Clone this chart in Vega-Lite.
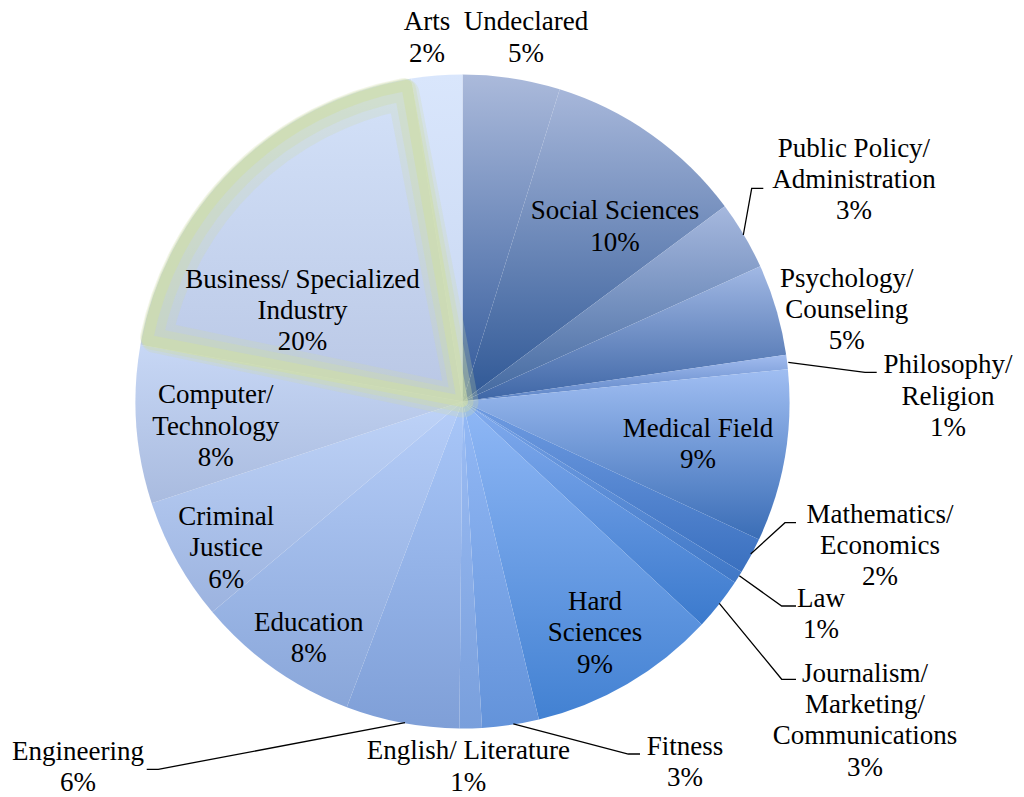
{
  "$schema": "https://vega.github.io/schema/vega-lite/v6.json",
  "width": 1024,
  "height": 797,
  "padding": 0,
  "autosize": {"type": "none"},
  "background": "white",
  "config": {"view": {"stroke": null}},
  "datasets": {
    "slices": [
      {"major": "Undeclared", "value": 4.8, "rank": 1},
      {"major": "Social Sciences", "value": 10.0, "rank": 2},
      {"major": "Public Policy/ Administration", "value": 3.4, "rank": 3},
      {"major": "Psychology/ Counseling", "value": 4.5, "rank": 4},
      {"major": "Philosophy/ Religion", "value": 0.7, "rank": 5},
      {"major": "Medical Field", "value": 8.5, "rank": 6},
      {"major": "Mathematics/ Economics", "value": 1.8, "rank": 7},
      {"major": "Law", "value": 0.6, "rank": 8},
      {"major": "Journalism/ Marketing/ Communications", "value": 2.6, "rank": 9},
      {"major": "Hard Sciences", "value": 9.3, "rank": 10},
      {"major": "Fitness", "value": 2.8, "rank": 11},
      {"major": "English/ Literature", "value": 1.1, "rank": 12},
      {"major": "Engineering", "value": 5.6, "rank": 13},
      {"major": "Education", "value": 8.1, "rank": 14},
      {"major": "Criminal Justice", "value": 6.1, "rank": 15},
      {"major": "Computer/ Technology", "value": 7.8, "rank": 16},
      {"major": "Business/ Specialized Industry", "value": 19.7, "rank": 17},
      {"major": "Arts", "value": 2.5, "rank": 18}
    ],
    "labels": [
      {"major": "Arts", "label": "Arts\n2%", "lx": -0.1086, "ly": 1.1346},
      {"major": "Undeclared", "label": "Undeclared\n5%", "lx": 0.1942, "ly": 1.1346},
      {"major": "Social Sciences", "label": "Social Sciences\n10%", "lx": 0.4664, "ly": 0.5572},
      {"major": "Public Policy/ Administration", "label": "Public Policy/\nAdministration\n3%", "lx": 1.1972, "ly": 0.7486},
      {"major": "Psychology/ Counseling", "label": "Psychology/\nCounseling\n5%", "lx": 1.1749, "ly": 0.3511},
      {"major": "Philosophy/ Religion", "label": "Philosophy/\nReligion\n1%", "lx": 1.4847, "ly": 0.0862},
      {"major": "Medical Field", "label": "Medical Field\n9%", "lx": 0.7202, "ly": -0.1076},
      {"major": "Mathematics/ Economics", "label": "Mathematics/\nEconomics\n2%", "lx": 1.2768, "ly": -0.3706},
      {"major": "Law", "label": "Law\n1%", "lx": 1.0963, "ly": -0.6275},
      {"major": "Journalism/ Marketing/ Communications", "label": "Journalism/\nMarketing/\nCommunications\n3%", "lx": 1.2309, "ly": -0.8569},
      {"major": "Hard Sciences", "label": "Hard\nSciences\n9%", "lx": 0.4052, "ly": -0.6376},
      {"major": "Fitness", "label": "Fitness\n3%", "lx": 0.6804, "ly": -1.0810},
      {"major": "English/ Literature", "label": "English/ Literature\n1%", "lx": 0.0177, "ly": -1.0942},
      {"major": "Engineering", "label": "Engineering\n6%", "lx": -1.1758, "ly": -1.0963},
      {"major": "Education", "label": "Education\n8%", "lx": -0.4700, "ly": -0.7009},
      {"major": "Criminal Justice", "label": "Criminal\nJustice\n6%", "lx": -0.7226, "ly": -0.3777},
      {"major": "Computer/ Technology", "label": "Computer/\nTechnology\n8%", "lx": -0.7544, "ly": -0.0055},
      {"major": "Business/ Specialized Industry", "label": "Business/ Specialized\nIndustry\n20%", "lx": -0.4893, "ly": 0.3480}
    ],
    "leaders": [
      {"major": "Public Policy/ Administration", "k": 1, "lx": 0.8587, "ly": 0.5092},
      {"major": "Public Policy/ Administration", "k": 2, "lx": 0.8844, "ly": 0.6520},
      {"major": "Public Policy/ Administration", "k": 3, "lx": 0.9199, "ly": 0.6520},
      {"major": "Philosophy/ Religion", "k": 1, "lx": 0.9963, "ly": 0.1199},
      {"major": "Philosophy/ Religion", "k": 2, "lx": 1.2309, "ly": 0.0893},
      {"major": "Philosophy/ Religion", "k": 3, "lx": 1.2667, "ly": 0.0893},
      {"major": "Mathematics/ Economics", "k": 1, "lx": 0.8813, "ly": -0.4664},
      {"major": "Mathematics/ Economics", "k": 2, "lx": 0.9862, "ly": -0.3706},
      {"major": "Mathematics/ Economics", "k": 3, "lx": 1.0199, "ly": -0.3706},
      {"major": "Law", "k": 1, "lx": 0.8465, "ly": -0.5327},
      {"major": "Law", "k": 2, "lx": 0.9761, "ly": -0.6254},
      {"major": "Law", "k": 3, "lx": 1.0199, "ly": -0.6254},
      {"major": "Journalism/ Marketing/ Communications", "k": 1, "lx": 0.7853, "ly": -0.6171},
      {"major": "Journalism/ Marketing/ Communications", "k": 2, "lx": 0.9761, "ly": -0.8495},
      {"major": "Journalism/ Marketing/ Communications", "k": 3, "lx": 1.0199, "ly": -0.8495},
      {"major": "Fitness", "k": 1, "lx": 0.1554, "ly": -0.9862},
      {"major": "Fitness", "k": 2, "lx": 0.5070, "ly": -1.0780},
      {"major": "Fitness", "k": 3, "lx": 0.5428, "ly": -1.0780},
      {"major": "Engineering", "k": 1, "lx": -0.1758, "ly": -0.9823},
      {"major": "Engineering", "k": 2, "lx": -0.9303, "ly": -1.1248},
      {"major": "Engineering", "k": 3, "lx": -0.9657, "ly": -1.1248}
    ]
  },
  "layer": [
    {
      "data": {"name": "slices"},
      "mark": {"type": "arc", "outerRadius": 327},
      "encoding": {
        "x": {"datum": 0, "type": "quantitative", "scale": {"domain": [-1.41437, 1.71713], "nice": false, "zero": false}, "axis": null},
        "y": {"datum": 0, "type": "quantitative", "scale": {"domain": [-1.20948, 1.22783], "nice": false, "zero": false}, "axis": null},
        "theta": {"field": "value", "type": "quantitative", "stack": true},
        "order": {"field": "rank", "type": "quantitative", "sort": "ascending"},
        "fill": {
          "condition": [
            {"test": "datum.major === 'Undeclared'", "value": {"gradient": "linear", "x1": 0, "y1": 0, "x2": 0, "y2": 1, "stops": [{"offset": 0, "color": "#abbadb"}, {"offset": 1, "color": "#31599a"}]}},
            {"test": "datum.major === 'Social Sciences'", "value": {"gradient": "linear", "x1": 0, "y1": 0, "x2": 0, "y2": 1, "stops": [{"offset": 0, "color": "#a7b7da"}, {"offset": 1, "color": "#2e5795"}]}},
            {"test": "datum.major === 'Public Policy/ Administration'", "value": {"gradient": "linear", "x1": 0, "y1": 0, "x2": 0, "y2": 1, "stops": [{"offset": 0, "color": "#a6b8de"}, {"offset": 1, "color": "#42689f"}]}},
            {"test": "datum.major === 'Psychology/ Counseling'", "value": {"gradient": "linear", "x1": 0, "y1": 0, "x2": 0, "y2": 1, "stops": [{"offset": 0, "color": "#a1b8e4"}, {"offset": 1, "color": "#3e66a6"}]}},
            {"test": "datum.major === 'Philosophy/ Religion'", "value": {"gradient": "linear", "x1": 0, "y1": 0, "x2": 0, "y2": 1, "stops": [{"offset": 0, "color": "#a2bcef"}, {"offset": 1, "color": "#5a82c4"}]}},
            {"test": "datum.major === 'Medical Field'", "value": {"gradient": "linear", "x1": 0, "y1": 0, "x2": 0, "y2": 1, "stops": [{"offset": 0, "color": "#a0bef2"}, {"offset": 1, "color": "#3a6db6"}]}},
            {"test": "datum.major === 'Mathematics/ Economics'", "value": {"gradient": "linear", "x1": 0, "y1": 0, "x2": 0, "y2": 1, "stops": [{"offset": 0, "color": "#709ce2"}, {"offset": 1, "color": "#3a70bf"}]}},
            {"test": "datum.major === 'Law'", "value": {"gradient": "linear", "x1": 0, "y1": 0, "x2": 0, "y2": 1, "stops": [{"offset": 0, "color": "#78a3e7"}, {"offset": 1, "color": "#3f77c6"}]}},
            {"test": "datum.major === 'Journalism/ Marketing/ Communications'", "value": {"gradient": "linear", "x1": 0, "y1": 0, "x2": 0, "y2": 1, "stops": [{"offset": 0, "color": "#82abee"}, {"offset": 1, "color": "#3b7acd"}]}},
            {"test": "datum.major === 'Hard Sciences'", "value": {"gradient": "linear", "x1": 0, "y1": 0, "x2": 0, "y2": 1, "stops": [{"offset": 0, "color": "#90b8f6"}, {"offset": 1, "color": "#4281d2"}]}},
            {"test": "datum.major === 'Fitness'", "value": {"gradient": "linear", "x1": 0, "y1": 0, "x2": 0, "y2": 1, "stops": [{"offset": 0, "color": "#95baf6"}, {"offset": 1, "color": "#6393da"}]}},
            {"test": "datum.major === 'English/ Literature'", "value": {"gradient": "linear", "x1": 0, "y1": 0, "x2": 0, "y2": 1, "stops": [{"offset": 0, "color": "#9dbef5"}, {"offset": 1, "color": "#799fdc"}]}},
            {"test": "datum.major === 'Engineering'", "value": {"gradient": "linear", "x1": 0, "y1": 0, "x2": 0, "y2": 1, "stops": [{"offset": 0, "color": "#a9c7f9"}, {"offset": 1, "color": "#7f9fd7"}]}},
            {"test": "datum.major === 'Education'", "value": {"gradient": "linear", "x1": 0, "y1": 0, "x2": 0, "y2": 1, "stops": [{"offset": 0, "color": "#b6cef9"}, {"offset": 1, "color": "#89a6d9"}]}},
            {"test": "datum.major === 'Criminal Justice'", "value": {"gradient": "linear", "x1": 0, "y1": 0, "x2": 0, "y2": 1, "stops": [{"offset": 0, "color": "#bed3f8"}, {"offset": 1, "color": "#9cb3df"}]}},
            {"test": "datum.major === 'Computer/ Technology'", "value": {"gradient": "linear", "x1": 0, "y1": 0, "x2": 0, "y2": 1, "stops": [{"offset": 0, "color": "#c7d7f5"}, {"offset": 1, "color": "#a9bbdf"}]}},
            {"test": "datum.major === 'Business/ Specialized Industry'", "value": {"gradient": "linear", "x1": 0, "y1": 0, "x2": 0, "y2": 1, "stops": [{"offset": 0, "color": "#d4e2f9"}, {"offset": 1, "color": "#b9c7e5"}]}}
          ],
          "value": {"gradient": "linear", "x1": 0, "y1": 0, "x2": 0, "y2": 1, "stops": [{"offset": 0, "color": "#d9e6fc"}, {"offset": 1, "color": "#c7d6f1"}]}
        }
      }
    },
    {
      "data": {"name": "slices"},
      "mark": {"type": "arc", "outerRadius": 313, "padAngle": 0.065, "fill": "white", "fillOpacity": 0, "stroke": "#cedda8", "strokeWidth": 32, "strokeJoin": "round"},
      "encoding": {
        "x": {"datum": 0, "type": "quantitative"},
        "y": {"datum": 0, "type": "quantitative"},
        "theta": {"field": "value", "type": "quantitative", "stack": true},
        "order": {"field": "rank", "type": "quantitative", "sort": "ascending"},
        "strokeOpacity": {"condition": {"test": "datum.major === 'Business/ Specialized Industry'", "value": 0.25}, "value": 0}
      }
    },
    {
      "data": {"name": "slices"},
      "mark": {"type": "arc", "outerRadius": 317, "padAngle": 0.05, "fill": "white", "fillOpacity": 0, "stroke": "#cedda8", "strokeWidth": 22, "strokeJoin": "round"},
      "encoding": {
        "x": {"datum": 0, "type": "quantitative"},
        "y": {"datum": 0, "type": "quantitative"},
        "theta": {"field": "value", "type": "quantitative", "stack": true},
        "order": {"field": "rank", "type": "quantitative", "sort": "ascending"},
        "strokeOpacity": {"condition": {"test": "datum.major === 'Business/ Specialized Industry'", "value": 0.35}, "value": 0}
      }
    },
    {
      "data": {"name": "slices"},
      "mark": {"type": "arc", "outerRadius": 321, "padAngle": 0.035, "fill": "white", "fillOpacity": 0, "stroke": "#cedda8", "strokeWidth": 11, "strokeJoin": "round"},
      "encoding": {
        "x": {"datum": 0, "type": "quantitative"},
        "y": {"datum": 0, "type": "quantitative"},
        "theta": {"field": "value", "type": "quantitative", "stack": true},
        "order": {"field": "rank", "type": "quantitative", "sort": "ascending"},
        "strokeOpacity": {"condition": {"test": "datum.major === 'Business/ Specialized Industry'", "value": 0.6}, "value": 0}
      }
    },
    {
      "data": {"name": "leaders"},
      "mark": {"type": "line", "color": "black", "strokeWidth": 1.3},
      "encoding": {
        "x": {"field": "lx", "type": "quantitative"},
        "y": {"field": "ly", "type": "quantitative"},
        "detail": {"field": "major", "type": "nominal"},
        "order": {"field": "k", "type": "quantitative"}
      }
    },
    {
      "data": {"name": "labels"},
      "mark": {"type": "text", "font": "Liberation Serif", "fontSize": 27, "lineHeight": 31.3, "lineBreak": "\n", "align": "center", "baseline": "alphabetic", "color": "black"},
      "encoding": {
        "x": {"field": "lx", "type": "quantitative"},
        "y": {"field": "ly", "type": "quantitative"},
        "text": {"field": "label", "type": "nominal"}
      }
    }
  ]
}
